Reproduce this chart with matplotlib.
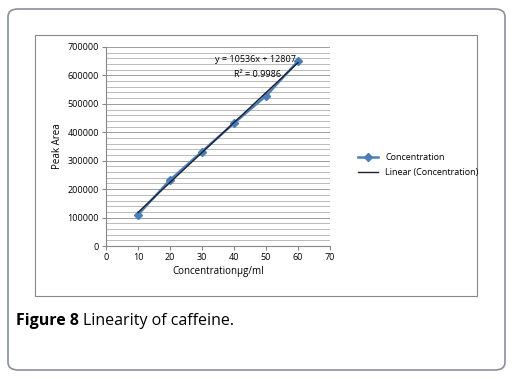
import numpy as np
import matplotlib.pyplot as plt
from matplotlib.patches import FancyBboxPatch, Rectangle

conc = [10, 20, 30, 40, 50, 60]
peak_area = [110000, 232000, 332000, 432000, 528000, 650000]
slope = 10536
intercept = 12807
r2 = 0.9986
xticks = [0, 10, 20, 30, 40, 50, 60, 70]
yticks = [0, 100000, 200000, 300000, 400000, 500000, 600000, 700000]

plt.rcParams['font.family'] = ['Open Sans', 'DejaVu Sans']

fig = plt.figure(figsize=(5.12, 3.79), dpi=100)

# outer rounded frame
fig.patches.append(FancyBboxPatch((8 / 512, 9 / 379), 497 / 512, 361 / 379,
                                  boxstyle='round,pad=0,rounding_size=0.02',
                                  transform=fig.transFigure, fill=False,
                                  edgecolor='#8a8f99', linewidth=1.2))
# inner chart box
fig.patches.append(Rectangle((35 / 512, 83 / 379), 442 / 512, 261 / 379,
                             transform=fig.transFigure, fill=False,
                             edgecolor='#888888', linewidth=0.8))

ax = fig.add_axes([106 / 512, 133 / 379, 224 / 512, 199 / 379])

# minor/major horizontal grid
for v in np.arange(0, 700001, 20000):
    ax.axhline(v, color='#b0b0b0' if v % 100000 else '#8c8c8c', linewidth=0.6, zorder=0)

ax.plot(conc, peak_area, color='#4a7ebb', linewidth=1.8, marker='D',
        markersize=4.5, label='Concentration', zorder=3)
fit_x = np.array([conc[0], conc[-1]])
ax.plot(fit_x, slope * fit_x + intercept, color='#1f1f2e', linewidth=1.0,
        label='Linear (Concentration)', zorder=4)

ax.set_xlim(0, 70)
ax.set_ylim(0, 700000)
ax.set_xticks(xticks)
ax.set_yticks(yticks)
ax.set_yticklabels([str(v) for v in yticks])
ax.tick_params(labelsize=6.5, length=3, color='#888888', pad=2)
for s in ['top', 'right']:
    ax.spines[s].set_visible(False)
for s in ['left', 'bottom']:
    ax.spines[s].set_color('#888888')

ax.set_xlabel('Concentration\u03bcg/ml', fontsize=7, labelpad=3)
ax.set_ylabel('Peak Area', fontsize=7, labelpad=3)

ax.text(0.665, 0.935, 'y = 10536x + 12807', transform=ax.transAxes,
        fontsize=6.5, ha='center', va='center')
ax.text(0.675, 0.86, 'R\u00b2 = %.4f' % r2, transform=ax.transAxes,
        fontsize=6.5, ha='center', va='center')

fig.legend(loc='center left', bbox_to_anchor=(350 / 512, 1 - 165 / 379),
           frameon=False, fontsize=6.5, handlelength=2.2, labelspacing=0.6)

fig.text(16 / 512, 1 - 321 / 379, 'Figure 8', fontsize=11.5, fontweight='bold', va='center')
fig.text(83 / 512, 1 - 321 / 379, 'Linearity of caffeine.', fontsize=11.5, va='center')

fig.savefig('out.png', dpi=100)
